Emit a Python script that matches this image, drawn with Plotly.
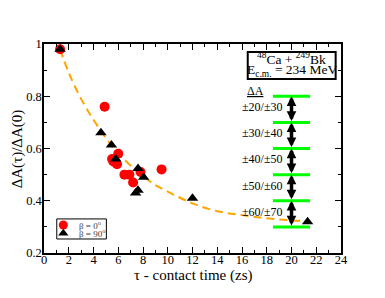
import plotly.graph_objects as go

# beta = 0 deg (red circles)
red_x = [1.3, 4.9, 5.5, 5.6, 6.0, 5.9, 6.5, 6.9, 7.2, 7.8, 9.5]
red_y = [0.98, 0.76, 0.56, 0.55, 0.58, 0.54, 0.50, 0.50, 0.47, 0.51, 0.52]
# beta = 90 deg (black triangles)
tri_x = [1.3, 4.6, 5.45, 5.8, 7.6, 8.05, 7.4, 7.6, 12.0, 21.3]
tri_y = [0.98, 0.66, 0.613, 0.56, 0.523, 0.49, 0.43, 0.44, 0.41, 0.32]
# dashed fit curve
fit_x = [1.3, 2, 3, 4, 5, 6, 7, 8, 9, 10, 12, 14, 16, 18, 20, 21.2]
fit_y = [0.98, 0.89, 0.79, 0.71, 0.64, 0.58, 0.535, 0.495, 0.46, 0.435, 0.39, 0.36, 0.345, 0.333, 0.325, 0.322]
# Delta A bins
levels = [0.8, 0.7, 0.6, 0.5, 0.4, 0.3]
bin_labels = ["±20/±30", "±30/±40", "±40/±50", "±50/±60", "±60/±70"]
bar_x = 20
bar_span = [18.5, 21.5]
legend_names = ["β = 0<sup>o</sup>", "β = 90<sup>o</sup>"]

font = "Liberation Serif, Times New Roman, serif"
fig = go.Figure()

fig.add_trace(go.Scatter(x=fit_x, y=fit_y, mode="lines",
                         line=dict(color="#FFA500", width=2, dash="8px,5px", shape="spline"), showlegend=False))

for lv in levels:
    fig.add_trace(go.Scatter(x=bar_span, y=[lv, lv], mode="lines", line=dict(color="#00FF00", width=3),
                             showlegend=False, hoverinfo="skip"))

fig.add_trace(go.Scatter(x=red_x, y=red_y, mode="markers", name=legend_names[0], showlegend=False,
                         marker=dict(color="#FF0000", size=10, symbol="circle")))
fig.add_trace(go.Scatter(x=tri_x, y=tri_y, mode="markers", name=legend_names[1], showlegend=False,
                         marker=dict(color="black", size=10, symbol="triangle-up")))

for i, lab in enumerate(bin_labels):
    top, bot = levels[i], levels[i + 1]
    fig.add_annotation(x=bar_x, y=top, ax=bar_x, ay=bot, xref="x", yref="y", axref="x", ayref="y",
                       showarrow=True, arrowhead=2, arrowside="end+start", arrowwidth=3.5, arrowsize=0.55,
                       arrowcolor="black", text="")
    fig.add_annotation(x=19.5, y=(top + bot) / 2 + 0.008, xref="x", yref="y", text=lab, showarrow=False,
                       xanchor="right", yanchor="middle", font=dict(family=font, size=12, color="black"))

fig.add_annotation(x=17.1, y=0.822, xref="x", yref="y", text="<u>ΔA</u>", showarrow=False,
                   xanchor="center", yanchor="middle", font=dict(family=font, size=12, color="black"))

# info box
fig.add_shape(type="rect", xref="paper", yref="paper", x0=0.686, x1=0.982, y0=0.833, y1=0.962,
              line=dict(color="black", width=2), fillcolor="white", layer="below")
fig.add_annotation(x=0.834, y=0.933, xref="paper", yref="paper", xanchor="center", yanchor="middle",
                   text="<sup>48</sup>Ca + <sup>249</sup>Bk", showarrow=False,
                   font=dict(family=font, size=13.5, color="black"))
fig.add_annotation(x=0.834, y=0.873, xref="paper", yref="paper", xanchor="center", yanchor="middle",
                   text="E<sub>c.m.</sub> = 234 MeV", showarrow=False,
                   font=dict(family=font, size=13.5, color="black"))

# manual legend
fig.add_shape(type="rect", xref="paper", yref="paper", x0=0.043, x1=0.210, y0=0.067, y1=0.163,
              line=dict(color="black", width=1), fillcolor="white", layer="below")
fig.add_trace(go.Scatter(x=[0.065], y=[0.134], xaxis="x2", yaxis="y2", mode="markers", showlegend=False,
                         marker=dict(color="#FF0000", size=9, symbol="circle"), hoverinfo="skip"))
fig.add_trace(go.Scatter(x=[0.065], y=[0.094], xaxis="x2", yaxis="y2", mode="markers", showlegend=False,
                         marker=dict(color="black", size=9, symbol="triangle-up"), hoverinfo="skip"))
for name, yy in zip(legend_names, [0.134, 0.094]):
    fig.add_annotation(x=0.112, y=yy, xref="paper", yref="paper", xanchor="left", yanchor="middle",
                       text=name, showarrow=False, font=dict(family=font, size=9, color="#404040"))

# axis titles
fig.add_annotation(x=0.5, y=-0.107, xref="paper", yref="paper", xanchor="center", yanchor="middle",
                   text="τ - contact time (zs)", showarrow=False, font=dict(family=font, size=15, color="black"))
fig.add_annotation(x=-0.088, y=0.5, xref="paper", yref="paper", xanchor="center", yanchor="middle",
                   text="ΔA(τ)/ΔA(0)", textangle=-90, showarrow=False, font=dict(family=font, size=15, color="black"))

axis_common = dict(showline=True, linecolor="black", linewidth=1.5, mirror="ticks", ticks="inside",
                   ticklen=6, tickcolor="black", tickwidth=1, showgrid=False, zeroline=False,
                   tickfont=dict(family=font, size=12.5, color="black"))

fig.update_xaxes(range=[0, 24], dtick=2, tick0=0, ticklabelstandoff=-6,
                 minor=dict(ticks="inside", ticklen=3, dtick=1, tickcolor="black", showgrid=False),
                 **axis_common)
fig.update_yaxes(range=[0.2, 1], dtick=0.2, tick0=0.2, tickformat="~g", ticklabelstandoff=-2,
                 minor=dict(ticks="inside", ticklen=3, dtick=0.1, tickcolor="black", showgrid=False),
                 **axis_common)

fig.update_layout(width=377, height=290, margin=dict(l=36, r=44, t=36, b=45),
                  plot_bgcolor="white", paper_bgcolor="white", showlegend=False,
                  font=dict(family=font),
                  xaxis2=dict(overlaying="x", range=[0, 1], visible=False, fixedrange=True),
                  yaxis2=dict(overlaying="y", range=[0, 1], visible=False, fixedrange=True))

fig.write_html("out.html")
